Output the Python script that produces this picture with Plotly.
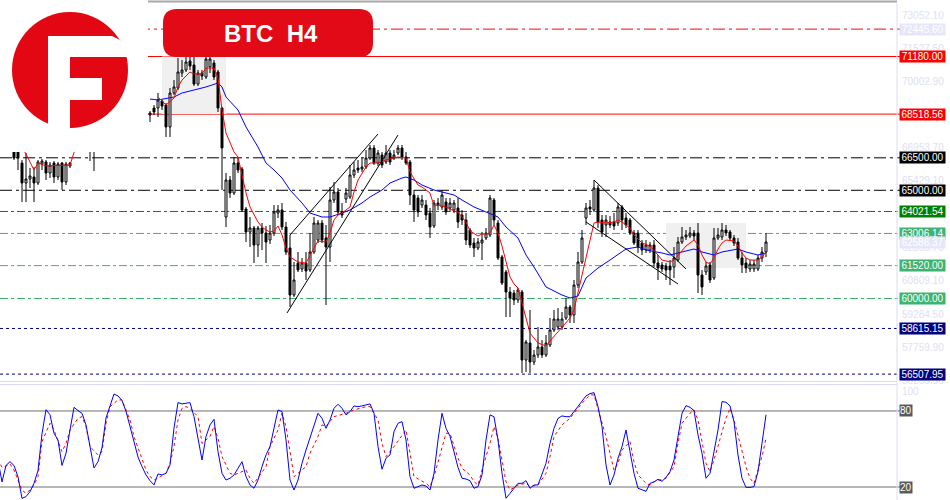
import plotly.graph_objects as go

W, H = 950, 500
PLOT_W = 897  # right edge of the plotting area, price scale sits to the right

# ---- BTC H4 candles, index 0 = first bar visible on the left ----
opens = [66953, 66861, 66260, 65336, 65521, 65614, 65336, 66214, 66307, 65798,
         66260, 65614, 66260, 65383, 66122, None, None, None, None, 67092,
         67462, None, None, None, None, None, None, None, None, None,
         None, None, None, None, 68478, 68801, 68801, 69125, 68940, 67924,
         69494, 69725, 70418, 70557, 70973, 70788, 69910, 70418, 70234, 70696,
         70880, 70465, 68801, 63766, 65475, 64874, 66260, 65983, 64135, 63073,
         63257, 62472, 63257, 63026, 62703, 63026, 63950, 64089, 63304, 62333,
         60162, 61640, 61363, 61640, 61317, 62149, 62703, 63488, 62795, 62380,
         64551, 64921, 63997, 64597, 64690, 65706, 66029, 65983, 66076, 66491,
         66953, 66260, 66630, 66307, 66722, 66491, 66722, 66953, 66538, 66307,
         64782, 64643, 64320, 64320, 63950, 63350, 64412, 64228, 64459, 64181,
         64089, 64181, 63858, 63627, 63165, 62564, 62333, 62564, 62795, 62934,
         64551, 63488, 61918, 61225, 60301, 60254, 59931, 60301, 57159, 57944,
         57067, 57390, 57760, 57390, 57852, 58545, 58684, 58684, 59099, 59608,
         59238, 60624, 61687, 63719, 64228, 64089, 65105, 63627, 63396, 63535,
         63535, 63488, 64228, 63719, 63627, 63026, 63026, 62564, 62241, 62241,
         62472, 61640, 61548, 61502, 61502, 61456, 61779, 62611, 62842, 62888,
         63026, 63026, 61086, 61225, 61548, 60947, 62795, 62842, 63165, 63073,
         62795, 62611, 61871, 61640, 61363, 61363, 61363, 61871, 62149]
highs = [67046, 66953, 66399, 66722, 66029, 66076, 66399, 66445, 66399, 66307,
         66353, 66307, 66307, 66307, 66307, None, None, None, None, 67785,
         67877, None, None, None, None, None, None, None, None, None,
         None, None, None, None, 68663, 68940, 69494, 69171, 69032, 69725,
         70095, 71111, 71019, 71250, 71158, 71158, 70557, 70557, 71158, 71204,
         71019, 70557, 68848, 65798, 65660, 66538, 66491, 66076, 64228, 63766,
         63350, 63350, 63488, 63350, 63396, 64320, 64320, 64412, 63535, 62934,
         61687, 62149, 61871, 62149, 63026, 63766, 63627, 63627, 63396, 65152,
         65383, 65105, 64412, 65105, 66168, 66307, 66399, 66491, 66861, 67092,
         67092, 66861, 66769, 67092, 66861, 66861, 67092, 67092, 66769, 66399,
         65013, 64782, 64782, 64551, 64181, 64551, 64643, 65013, 64643, 64643,
         64551, 64643, 64089, 63950, 63257, 62795, 62795, 63073, 63257, 64782,
         64643, 63627, 62010, 61317, 60532, 60393, 60485, 60393, 58083, 59469,
         57621, 58684, 58083, 58314, 59099, 59469, 59561, 59377, 60023, 59700,
         60855, 62149, 63165, 64412, 64551, 65475, 65244, 63858, 63858, 63812,
         63950, 64412, 64320, 63950, 63719, 63165, 63165, 62703, 62703, 62611,
         62703, 62010, 61687, 61640, 61779, 62380, 62842, 63304, 63165, 63304,
         63165, 63488, 61317, 61687, 61687, 63257, 63257, 63488, 63396, 63165,
         62934, 62795, 62149, 61871, 61779, 61779, 62010, 62380, 63026]
lows = [66399, 65937, 64459, 64459, 65105, 64459, 65244, 65937, 65475, 65567,
        65336, 65475, 65013, 65244, 66029, None, None, None, None, 66353,
        65891, None, None, None, None, None, None, None, None, None,
        None, None, None, None, 68155, 68478, 68386, 68709, 67462, 67462,
        69402, 69633, 70234, 70465, 70557, 69818, 69818, 70095, 70141, 70418,
        70095, 68617, 65013, 63304, 64643, 64782, 65798, 63997, 62611, 62380,
        61640, 61918, 62241, 61640, 62518, 62888, 63719, 63165, 62010, 59608,
        60070, 61225, 61225, 60855, 61225, 62056, 62564, 62564, 59700, 61687,
        64412, 63858, 63719, 64412, 64597, 65567, 65798, 65845, 65983, 66399,
        66168, 66122, 66029, 66214, 66168, 66399, 66630, 66399, 66168, 64320,
        63535, 63766, 64181, 63627, 62795, 63257, 64089, 64089, 63858, 63997,
        63950, 63257, 63396, 62472, 62333, 61918, 62241, 61779, 62703, 62842,
        63396, 61779, 60624, 59146, 59146, 59700, 59792, 56558, 56605, 56558,
        56928, 57251, 57251, 57298, 57760, 58453, 58545, 58545, 59007, 58868,
        58868, 60485, 61594, 63396, 63858, 63997, 63257, 62842, 62842, 63257,
        63165, 63350, 63165, 63257, 62934, 62472, 62102, 62010, 62102, 62102,
        61456, 60855, 61225, 60855, 60624, 60947, 61687, 62518, 62703, 62795,
        62703, 60254, 60162, 61086, 60716, 60855, 62703, 62703, 62888, 62657,
        62426, 61779, 61178, 61178, 61225, 61225, 61271, 61687, 61918]
closes = [66491, 66491, 65336, 65521, 65660, 65336, 66307, 66353, 65798, 66168,
          65614, 66214, 65383, 66214, 66260, None, None, None, None, 67554,
          66953, None, None, None, None, None, None, None, None, None,
          None, None, None, None, 68570, 68617, 69171, 68894, 67924, 69494,
          69772, 70465, 70557, 70927, 70742, 69910, 70418, 70280, 71065, 71065,
          70234, 68801, 66953, 65475, 64874, 66260, 65937, 64089, 63073, 63257,
          62472, 63257, 63026, 62611, 63026, 63997, 64089, 63304, 62149, 60162,
          60855, 61317, 61640, 61271, 62149, 63488, 63488, 62703, 62380, 64551,
          64921, 63997, 63858, 64874, 65706, 65937, 65937, 66076, 66491, 66953,
          66260, 66722, 66168, 66722, 66307, 66630, 66953, 66538, 66260, 64782,
          64089, 63997, 64551, 63858, 63304, 64412, 64320, 64782, 63997, 64412,
          64412, 63535, 63627, 62703, 62472, 62333, 62611, 62703, 63026, 64643,
          63627, 61871, 60716, 60301, 60023, 59931, 60393, 57159, 57991, 57067,
          57390, 57760, 57390, 57944, 58545, 59053, 59053, 59053, 59608, 59238,
          60624, 61687, 62795, 64181, 64135, 65105, 63535, 63073, 63627, 63396,
          63350, 64228, 63627, 63396, 63026, 62564, 62380, 62241, 62472, 62472,
          61640, 61409, 61363, 61317, 61317, 61871, 62611, 62842, 62934, 63026,
          62888, 61086, 60532, 61502, 60855, 62795, 62934, 63165, 63026, 62795,
          62564, 61871, 61548, 61409, 61594, 61594, 61871, 62149, 62611]
bar_index = list(range(len(opens)))

# fast (red) and slow (blue) moving averages
ma_fast_x = [2, 3, 5, 6, 8, 14, 16, None, 36, 38, 40, 41, 42, 44, 45, 47, 48, 50, 51, 52, 53, 55, 56, 57, 58, 59,
             60, 61, 62, 63, 64, 65, 66, 67, 68, 69, 71, 73, 75, 76, 78, 79, 80, 81, 82, 84, 85, 86, 88, 89,
             91, 93, 95, 96, 98, 99, 101, 102, 104, 105, 106, 108, 110, 111, 113, 114, 116, 117, 118, 119,
             120, 121, 122, 123, 124, 125, 126, 127, 128, 129, 131, 133, 134, 136, 137, 139, 140, 141, 142,
             143, 144, 145, 146, 148, 150, 151, 152, 153, 154, 155, 157, 159, 160, 161, 162, 164, 165, 166,
             167, 168, 169, 170, 171, 172, 173, 174, 175, 176, 177, 178, 180, 181, 182, 183, 184, 186, 187, 188]
ma_fast_y = [66953, 66676, 65937, 66260, 66122, 66168, 67323, None, 69310, 68940, 69263, 69772, 70095, 70465,
             70372, 70372, 70649, 70649, 70187, 68709, 67646, 66769, 66538, 65706, 64874, 64228,
             63858, 63535, 63304, 63165, 63073, 63119, 63350, 62934, 62333, 61918, 61687, 61640, 62333,
             62657, 62611, 63026, 63627, 63858, 63950, 64228, 64921, 65475, 66076, 66260,
             66260, 66399, 66491, 66538, 66491, 65845, 65244, 65152, 64874, 64274, 64320, 64228, 64043,
             63997, 63535, 63119, 62888, 62980, 62980, 63026,
             63396, 63026, 62426, 61687, 60994, 60670, 60485, 59792, 59099, 58406, 57944, 57806, 58037,
             58453, 58684, 59099, 59469, 60301, 61086,
             61871, 62703, 63488, 63535, 63488, 63535, 63627, 63535, 63396, 63257, 62934, 62564, 62426,
             62241, 62010, 61779, 61687, 61779, 62010,
             62241, 62426, 62564, 62703, 62472, 62010, 61687, 61594, 61871, 62287, 62564, 62703, 62657,
             62426, 62102, 61871, 61779, 61779, 61918, 62149]
ma_slow_x = [34, 36, 40, 42, 45, 48, 51, 52, 53, 56, 58, 61, 63, 65, 67, 69, 72, 74, 77, 79, 82, 84, 87, 89,
             92, 94, 97, 98, 100, 102, 105, 107, 110, 112, 115, 118, 121, 123, 126, 128, 130, 133, 137, 139,
             141, 143, 146, 149, 152, 153, 156, 158, 162, 164, 167, 170, 172, 175, 177, 181, 183, 186, 188]
ma_slow_y = [69217, 69171, 69310, 69494, 69633, 69772, 69956, 69772, 69310, 68709, 67924, 67000, 66260,
             65937, 65567, 65013, 64412, 63950, 63766, 63766, 63950, 64089, 64412, 64690,
             65013, 65336, 65567, 65614, 65475, 65244, 65013, 64921, 64782, 64551, 64228, 63997, 63766,
             63304, 62795, 62010, 61456, 60532, 60162, 60023,
             60116, 60947, 61409, 61779, 62149, 62287, 62380, 62241, 62102, 62010, 62149, 62287, 62149,
             62010, 62149, 62287, 62149, 62010, 62102]

# stochastic oscillator (%K solid blue, %D dotted red)
stoch_k_x = list(range(-4, 189))
stoch_k = [41, 24, 37, 40, 37, 28, 11, 12.4, 16.3, 22.9, 33, 62, 81, 77, 62.4, 57, 37, 46.6, 65, 82.9,
           80.3, 78.2, 69, 52.4, 35, 40, 51, 74.5, 84.8, 93.4, 91.9, 88.2, 79.8, 67.7, 55, 43.7, 36.1,
           29.5, 25, 21.6, 30.3, 29.5, 30.8, 37.4, 66.6, 86.6, 85.6, 86.1, 86.6, 75.5, 59.8, 41.3, 59.8,
           69, 73.4, 47.9, 30.8, 25.5, 26.9, 29.5, 34.8, 40, 28.2, 21.6, 19, 25.5, 36.1, 45.3, 51.9,
           66.3, 80.8, 79.5, 57.1, 25.5, 17.6, 25.5, 38.7, 49.2, 58.4, 67.7, 78.2, 74.2, 66.3, 72.9,
           82.1, 85.3, 82.1, 76.9, 79.5, 84, 83.4, 84, 84.8, 85.6, 78.2, 51.9, 34, 42.7, 45.3, 63.7,
           70.3, 71.6, 57.1, 28.2, 19, 20.3, 21.6, 20.8, 17.6, 30.8, 57.1, 78.2, 66.3, 60, 47.9, 35.5,
           26.9, 26.3, 25, 19, 20.3, 29.5, 57.1, 76.9, 75.5, 57.1, 30.8, 11.1, 15, 19, 22.9, 22.9, 25,
           19, 21.6, 21.6, 30.8, 38.7, 54.5, 66.3, 74.2, 76.1, 75.5, 75.5, 79.5, 83.4, 87.4, 91.9, 93.7,
           94.5, 83.4, 67.7, 37.4, 21.6, 29.5, 42.7, 51.9, 65, 47.9, 30.8, 19, 17.6, 16.6, 22.9, 24,
           26.1, 24.5, 27.6, 32.1, 41.3, 59.8, 78.2, 84.2, 82.9, 80.3, 61.1, 46.6, 26.9, 30.8, 47.9, 65,
           87.4, 86.9, 84, 71.6, 45.3, 26.9, 19.7, 19.7, 20.3, 32.1, 54.5, 77]
stoch_d_x = [-4, -3, -2, -1, 0, 1, 2, 3, 4, 5, 6, 7, 9, 10, 11, 12, 13, 14, 16, 17, 18, 19, 21, 22, 23, 24,
             26, 27, 28, 29, 30, 33, 34, 35, 38, 39, 40, 41, 42, 43, 44, 46, 47, 49, 50, 51, 52, 54, 55,
             58, 59, 60, 63, 64, 66, 67, 68, 69, 70, 73, 74, 76, 77, 78, 80, 83, 85, 88, 89, 91, 92, 93,
             95, 98, 99, 100, 103, 104, 105, 108, 109, 110, 111, 112, 114, 115, 116, 117, 119, 120, 121,
             122, 123, 124, 126, 128, 129, 131, 133, 134, 135, 137, 139, 140, 141, 142, 144, 145, 148,
             150, 151, 152, 154, 155, 156, 158, 159, 160, 163, 165, 166, 167, 169, 170, 171, 172, 173,
             174, 175, 178, 179, 180, 183, 184, 185, 187, 188]
stoch_d = [41.9, 35.5, 36.6, 38.2, 33.4, 25.5, 17.6, 15, 17.6, 21.6, 28.2, 55.8, 70.3, 65, 55.8, 47.9,
           54.5, 65, 74.2, 75.5, 67.7, 51.9, 45.3, 47.9, 70.3, 83.4, 88.7, 88.7, 80.8, 72.9, 59.8, 33.4,
           28.2, 25.5, 30.8, 38.7, 51.9, 72.9, 82.1, 83.4, 82.1, 75.5, 54.5, 59.8, 67.7, 58.4, 44, 30.8,
           29.5, 33.4, 26.9, 22.9, 36.1, 51.9, 65, 78.2, 67.7, 46.6, 28.2, 36.1, 46.6, 59.8, 69, 67.7,
           75.5, 78.2, 80.8, 83.4, 83.4, 72.9, 54.5, 44, 51.9, 65, 46.6, 28.2, 22.9, 20.3, 28.2, 62.4,
           62.4, 51.9, 42.7, 34.8, 29.5, 24.2, 21.6, 33.4, 54.5, 67.7, 58.4, 41.3, 24.2, 17.6, 21.6,
           22.9, 20.3, 21.6, 30.8, 44, 59.8, 69, 74.2, 78.2, 82.1, 86.1, 92.7, 92.7, 59.8, 33.4, 38.7,
           49.2, 55.8, 40, 29.5, 22.9, 21.6, 24.2, 26.9, 36.1, 54.5, 70.3, 78.2, 80.8, 72.9, 54.5, 38.7,
           32.1, 41.3, 74.2, 82.1, 72.9, 36.1, 26.9, 22.9, 44, 58.4]

# horizontal levels drawn on the chart
levels = [72445.60, 71180.00, 68518.56, 66500.00, 65000.00, 64021.54, 63006.14, 61520.00, 60000.00,
          58615.15, 56507.95]
level_colors = ["#ff0000", "#ff0000", "#ff0000", "#000000", "#000000", "#008000", "#3cb371", "#3cb371",
                "#3cb371", "#000080", "#000080"]
level_dash = ["12px,4px,3px,4px", "solid", "solid", "12px,4px,3px,4px", "12px,4px,3px,4px",
              "8px,3px,3px,3px", "8px,3px,3px,3px", "8px,3px,3px,3px", "8px,3px,3px,3px", "3px,3px", "3px,3px"]
label_bg = ["#e6e6fa", "#ff0000", "#ff0000", "#000000", "#000000", "#008000", "#3cb371", "#3cb371",
            "#3cb371", "#000080", "#000080"]
bid_price = 62586.37
scale_ticks = ["73052.10", "71527.50", "70002.90", "66953.70", "65429.10", "62333.70", "60809.10",
               "59284.50", "57759.90", "56235.30"]

# drawn objects: trend channels and shaded boxes (bar index, price)
trend_lines = [((68.25, 59330), (96, 67554)), ((69, 62934), (91, 67600)),
               ((145, 65475), (168, 61363)), ((143, 63535), (166, 60670))]
zones = [((37, 68518.56), (53, 71180.00)), ((163, 61409), (183, 63488))]

PRICE_RANGE = [56189, 73652]
STOCH_RANGE = [9.74, 100.5]


def px(x, y):
    """pixel position on the 950x500 canvas -> paper coordinates"""
    return x / PLOT_W, 1 - y / H


def rounded_box(x0, y0, x1, y1, r):
    pts = [("M", x0 + r, y0), ("L", x1 - r, y0), ("Q", x1, y0, x1, y0 + r), ("L", x1, y1 - r),
           ("Q", x1, y1, x1 - r, y1), ("L", x0 + r, y1), ("Q", x0, y1, x0, y1 - r), ("L", x0, y0 + r),
           ("Q", x0, y0, x0 + r, y0)]
    out = []
    for p in pts:
        coords = []
        for k in range(1, len(p), 2):
            a, b = px(p[k], p[k + 1])
            coords.append(f"{a:.5f},{b:.5f}")
        out.append(p[0] + " " + " ".join(coords))
    return " ".join(out) + " Z"


def poly(points):
    parts = []
    for n, (x, y) in enumerate(points):
        a, b = px(x, y)
        parts.append(("M" if n == 0 else "L") + f"{a:.5f},{b:.5f}")
    return " ".join(parts) + " Z"


fig = go.Figure()
fig.add_trace(go.Candlestick(
    x=bar_index, open=opens, high=highs, low=lows, close=closes,
    increasing=dict(line=dict(color="black", width=1), fillcolor="white"),
    decreasing=dict(line=dict(color="black", width=1), fillcolor="black"),
    whiskerwidth=0, hoverinfo="skip", xaxis="x", yaxis="y",
))
fig.add_trace(go.Scatter(x=ma_slow_x, y=ma_slow_y, mode="lines", line=dict(color="#0000ff", width=1),
                         hoverinfo="skip", xaxis="x", yaxis="y"))
fig.add_trace(go.Scatter(x=ma_fast_x, y=ma_fast_y, mode="lines", line=dict(color="#ff0000", width=1),
                         connectgaps=False, hoverinfo="skip", xaxis="x", yaxis="y"))
fig.add_trace(go.Scatter(x=stoch_d_x, y=stoch_d, mode="lines",
                         line=dict(color="#ff0000", width=1, dash="3px,3px"),
                         hoverinfo="skip", xaxis="x2", yaxis="y2"))
fig.add_trace(go.Scatter(x=stoch_k_x, y=stoch_k, mode="lines", line=dict(color="#0000ff", width=1),
                         hoverinfo="skip", xaxis="x2", yaxis="y2"))

shapes = []
# shaded zones under the candles
for (xa, ya), (xb, yb) in zones:
    shapes.append(dict(type="rect", xref="x", yref="y", x0=xa, x1=xb, y0=ya, y1=yb,
                       fillcolor="#f0f0f0", line=dict(width=0), layer="below"))
# level lines
for lv, col, dash in zip(levels, level_colors, level_dash):
    shapes.append(dict(type="line", xref="paper", yref="y", x0=0, x1=900 / PLOT_W, y0=lv, y1=lv,
                       line=dict(color=col, width=1, dash=dash), layer="below"))
# stochastic 80 / 20
for lv in (80, 20):
    shapes.append(dict(type="line", xref="paper", yref="y2", x0=0, x1=900 / PLOT_W, y0=lv, y1=lv,
                       line=dict(color="#707070", width=1), layer="below"))
# trend channels
for (xa, ya), (xb, yb) in trend_lines:
    shapes.append(dict(type="line", xref="x", yref="y", x0=xa, x1=xb, y0=ya, y1=yb,
                       line=dict(color="black", width=1)))
# frame lines
shapes.append(dict(type="line", xref="paper", yref="paper", x0=px(140, 0)[0], x1=1, y0=px(0, 1.5)[1],
                   y1=px(0, 1.5)[1], line=dict(color="#a8a8a8", width=2)))
for yy in (381.5, 384.5):
    shapes.append(dict(type="line", xref="paper", yref="paper", x0=0, x1=1, y0=px(0, yy)[1],
                       y1=px(0, yy)[1], line=dict(color="#dcdcf0", width=1)))
shapes.append(dict(type="line", xref="paper", yref="paper", x0=1, x1=1, y0=0, y1=px(0, 3)[1],
                   line=dict(color="#dcdcf0", width=1)))
# white patch under the logo
x0p, y0p = px(0, 0)
x1p, y1p = px(148, 152)
shapes.append(dict(type="rect", xref="paper", yref="paper", x0=x0p, x1=x1p, y0=y1p, y1=y0p,
                   fillcolor="white", line=dict(width=0), layer="above"))
# logo: red disc with a white F cut into it
LOGO_RED = "#e30613"
cx0, cy0 = px(12, 12)
cx1, cy1 = px(128, 128)
shapes.append(dict(type="circle", xref="paper", yref="paper", x0=cx0, x1=cx1, y0=cy1, y1=cy0,
                   fillcolor=LOGO_RED, line=dict(width=0), layer="above"))
shapes.append(dict(type="path", xref="paper", yref="paper", layer="above", fillcolor="white",
                   line=dict(width=0),
                   path=poly([(48, 36), (112, 36), (128, 44), (130, 57), (70, 57), (70, 78), (102, 78),
                              (102, 100), (70, 100), (70, 132), (48, 132)])))
# title plate
shapes.append(dict(type="path", xref="paper", yref="paper", layer="above", fillcolor="#e20a17",
                   line=dict(width=0), path=rounded_box(163, 9, 373, 57, 14)))

annotations = []
FONT = "Liberation Sans, Arial, sans-serif"
for t in scale_ticks:
    annotations.append(dict(x=1, xref="paper", xanchor="left", xshift=3, y=float(t), yref="y",
                            text=t, showarrow=False, font=dict(family=FONT, size=10, color="#e0e0f4")))
annotations.append(dict(x=1, xref="paper", xanchor="left", xshift=3, y=95, yref="y2", text="100",
                        showarrow=False, font=dict(family=FONT, size=10, color="#e0e0f4")))
for lv, bg in zip(levels, label_bg):
    annotations.append(dict(x=1, xref="paper", xanchor="left", xshift=2, y=lv, yref="y",
                            text=f"{lv:.2f}", showarrow=False, bgcolor=bg, borderpad=0, width=45,
                            font=dict(family=FONT, size=10, color="white")))
annotations.append(dict(x=1, xref="paper", xanchor="left", xshift=2, y=bid_price, yref="y",
                        text=f"{bid_price:.2f}", showarrow=False, bgcolor="#e6e6fa", borderpad=0, width=45,
                        font=dict(family=FONT, size=10, color="white")))
for lv in (80, 20):
    annotations.append(dict(x=1, xref="paper", xanchor="left", xshift=2, y=lv, yref="y2",
                            text=str(lv), showarrow=False, bgcolor="#5a5a5a", borderpad=0,
                            font=dict(family=FONT, size=10, color="white")))
tx, ty = px(271, 33)
annotations.append(dict(x=tx, y=ty, xref="paper", yref="paper", xanchor="center", yanchor="middle",
                        text="<b>BTC\u00a0\u00a0H4</b>", showarrow=False,
                        font=dict(family=FONT, size=24, color="white")))

fig.update_layout(
    width=W, height=H, margin=dict(l=0, r=W - PLOT_W, t=0, b=0),
    paper_bgcolor="white", plot_bgcolor="white", showlegend=False,
    xaxis=dict(domain=[0, 1], range=[-3.5, 220.75], visible=False, rangeslider=dict(visible=False),
               fixedrange=True),
    yaxis=dict(domain=[0.238, 0.994], range=PRICE_RANGE, visible=False, fixedrange=True),
    xaxis2=dict(domain=[0, 1], range=[-3.5, 220.75], visible=False, anchor="y2", matches="x"),
    yaxis2=dict(domain=[0, 0.23], range=STOCH_RANGE, visible=False, anchor="x2"),
    shapes=shapes, annotations=annotations, hovermode=False,
)

fig.write_html("out.html", config={"displayModeBar": False, "staticPlot": True},
               post_script="document.body.style.margin='0';")
